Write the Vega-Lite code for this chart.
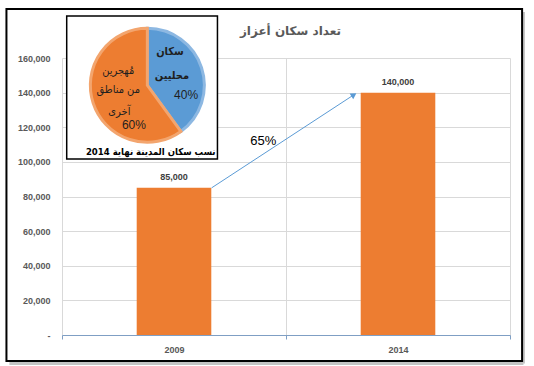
{
  "$schema": "https://vega.github.io/schema/vega-lite/v6.json",
  "autosize": "none",
  "width": 448,
  "height": 277,
  "padding": {"left": 62, "top": 58, "right": 24, "bottom": 31},
  "background": "white",
  "config": {
    "view": {"stroke": null}
  },
  "data": {"values": [
    {"year": "2009", "population": 85000},
    {"year": "2014", "population": 140000}
  ]},
  "layer": [
    {
      "mark": {"type": "bar", "color": "#ED7D31", "width": {"band": 0.333}},
      "encoding": {
        "x": {"field": "year", "type": "nominal", "scale": {"type": "band", "paddingInner": 0, "paddingOuter": 0},
          "axis": {"title": null, "labelAngle": 0, "tickBand": "extent", "grid": true, "gridColor": "#D9D9D9", "domainColor": "#7F9FC4", "tickColor": "#7F9FC4", "tickSize": 4, "labelFont": "Liberation Sans", "labelFontSize": 9, "labelFontWeight": "bold", "labelColor": "#595959", "labelPadding": 6}},
        "y": {"field": "population", "type": "quantitative", "scale": {"domain": [0, 160000], "nice": false, "zero": true},
          "axis": {"title": null, "values": [0, 20000, 40000, 60000, 80000, 100000, 120000, 140000, 160000], "tickCount": 9, "labelOverlap": false, "labelExpr": "datum.value == 0 ? '-' : format(datum.value, ',')", "domain": false, "ticks": false, "grid": true, "gridColor": "#D9D9D9", "labelFont": "Liberation Sans", "labelFontSize": 9, "labelFontWeight": "bold", "labelColor": "#595959", "labelPadding": 12}}
      }
    },
    {
      "mark": {"type": "text", "font": "Liberation Sans", "fontSize": 9, "fontWeight": "bold", "color": "#404040", "baseline": "bottom", "dy": -6},
      "encoding": {
        "x": {"field": "year", "type": "nominal"},
        "y": {"field": "population", "type": "quantitative"},
        "text": {"field": "population", "type": "quantitative", "format": ","}
      }
    },
    {
      "data": {"values": [{}]},
      "mark": {"type": "text", "text": "تعداد سكان أعزاز", "font": "DejaVu Sans", "fontSize": 12, "fontWeight": "bold", "color": "#595959", "align": "center", "baseline": "middle"},
      "encoding": {
        "x": {"datum": "2014", "type": "nominal", "bandPosition": 0.02},
        "y": {"datum": 175310, "type": "quantitative"}
      }
    },
    {
      "data": {"values": [{}]},
      "mark": {"type": "rule", "color": "#5B9BD5", "strokeWidth": 1},
      "encoding": {
        "x": {"datum": "2009", "type": "nominal", "bandPosition": 0.668},
        "y": {"datum": 85000, "type": "quantitative"},
        "x2": {"datum": "2014", "bandPosition": 0.303},
        "y2": {"datum": 138740}
      }
    },
    {
      "data": {"values": [{}]},
      "mark": {"type": "point", "shape": "triangle-up", "filled": true, "color": "#5B9BD5", "size": 45, "angle": 57, "opacity": 1},
      "encoding": {
        "x": {"datum": "2014", "type": "nominal", "bandPosition": 0.303},
        "y": {"datum": 138740, "type": "quantitative"}
      }
    },
    {
      "data": {"values": [{}]},
      "mark": {"type": "text", "text": "65%", "font": "Liberation Sans", "fontSize": 13, "color": "#000000", "align": "center", "baseline": "middle"},
      "encoding": {
        "x": {"datum": "2009", "type": "nominal", "bandPosition": 0.899},
        "y": {"datum": 112060, "type": "quantitative"}
      }
    },
    {
      "data": {"values": [{}]},
      "mark": {"type": "rect", "fill": "white", "stroke": "black", "strokeWidth": 1.5},
      "encoding": {
        "x": {"datum": "2009", "type": "nominal", "bandPosition": 0.021},
        "x2": {"datum": "2009", "bandPosition": 0.694},
        "y": {"datum": 184260, "type": "quantitative"},
        "y2": {"datum": 101660}
      }
    },
    {
      "data": {"values": [
        {"group": "سكان محليين", "share": 40},
        {"group": "مُهجرين من مناطق آخرى", "share": 60}
      ]},
      "mark": {"type": "arc", "outerRadius": 57, "strokeWidth": 3},
      "encoding": {
        "theta": {"field": "share", "type": "quantitative", "stack": true},
        "color": {"field": "group", "type": "nominal", "scale": {"domain": ["سكان محليين", "مُهجرين من مناطق آخرى"], "range": ["#5B9BD5", "#ED7D31"]}, "legend": null},
        "stroke": {"field": "group", "type": "nominal", "scale": {"domain": ["سكان محليين", "مُهجرين من مناطق آخرى"], "range": ["#8DB8E2", "#F3A56E"]}, "legend": null},
        "x": {"datum": "2009", "type": "nominal", "bandPosition": 0.381},
        "y": {"datum": 144230, "type": "quantitative"}
      }
    },
    {
      "data": {"values": [{}]},
      "mark": {"type": "text", "text": "سكان", "font": "DejaVu Sans Condensed, DejaVu Sans", "fontSize": 11, "fontWeight": "bold", "color": "#1F1F1F", "align": "center", "baseline": "middle"},
      "encoding": {
        "x": {"datum": "2009", "type": "nominal", "bandPosition": 0.482},
        "y": {"datum": 163500, "type": "quantitative"}
      }
    },
    {
      "data": {"values": [{}]},
      "mark": {"type": "text", "text": "محليين", "font": "DejaVu Sans Condensed, DejaVu Sans", "fontSize": 11, "fontWeight": "bold", "color": "#1F1F1F", "align": "center", "baseline": "middle"},
      "encoding": {
        "x": {"datum": "2009", "type": "nominal", "bandPosition": 0.491},
        "y": {"datum": 149500, "type": "quantitative"}
      }
    },
    {
      "data": {"values": [{}]},
      "mark": {"type": "text", "text": "40%", "font": "Liberation Sans", "fontSize": 12, "color": "#1F1F1F", "align": "center", "baseline": "middle"},
      "encoding": {
        "x": {"datum": "2009", "type": "nominal", "bandPosition": 0.554},
        "y": {"datum": 138630, "type": "quantitative"}
      }
    },
    {
      "data": {"values": [{}]},
      "mark": {"type": "text", "text": "مُهجرين", "font": "DejaVu Sans Condensed, DejaVu Sans", "fontSize": 11, "color": "#1F1F1F", "align": "center", "baseline": "middle"},
      "encoding": {
        "x": {"datum": "2009", "type": "nominal", "bandPosition": 0.251},
        "y": {"datum": 152500, "type": "quantitative"}
      }
    },
    {
      "data": {"values": [{}]},
      "mark": {"type": "text", "text": "من مناطق", "font": "DejaVu Sans Condensed, DejaVu Sans", "fontSize": 11, "color": "#1F1F1F", "align": "center", "baseline": "middle"},
      "encoding": {
        "x": {"datum": "2009", "type": "nominal", "bandPosition": 0.251},
        "y": {"datum": 141500, "type": "quantitative"}
      }
    },
    {
      "data": {"values": [{}]},
      "mark": {"type": "text", "text": "آخرى", "font": "DejaVu Sans Condensed, DejaVu Sans", "fontSize": 11, "color": "#1F1F1F", "align": "center", "baseline": "middle"},
      "encoding": {
        "x": {"datum": "2009", "type": "nominal", "bandPosition": 0.256},
        "y": {"datum": 129000, "type": "quantitative"}
      }
    },
    {
      "data": {"values": [{}]},
      "mark": {"type": "text", "text": "60%", "font": "Liberation Sans", "fontSize": 12, "color": "#1F1F1F", "align": "center", "baseline": "middle"},
      "encoding": {
        "x": {"datum": "2009", "type": "nominal", "bandPosition": 0.321},
        "y": {"datum": 121500, "type": "quantitative"}
      }
    },
    {
      "data": {"values": [{}]},
      "mark": {"type": "text", "text": "نسب سكان المدينة نهاية 2014", "font": "DejaVu Sans Condensed, DejaVu Sans", "fontSize": 9.5, "fontWeight": "bold", "color": "#000000", "align": "center", "baseline": "middle"},
      "encoding": {
        "x": {"datum": "2009", "type": "nominal", "bandPosition": 0.396},
        "y": {"datum": 105500, "type": "quantitative"}
      }
    },
    {
      "data": {"values": [{}]},
      "mark": {"type": "rule", "color": "#C4C4C4", "strokeWidth": 3},
      "encoding": {
        "x": {"datum": "2014", "type": "nominal", "bandPosition": 1.06},
        "y": {"datum": 186500, "type": "quantitative"},
        "y2": {"datum": -16500}
      }
    },
    {
      "data": {"values": [{}]},
      "mark": {"type": "rule", "color": "#C4C4C4", "strokeWidth": 3},
      "encoding": {
        "x": {"datum": "2009", "type": "nominal", "bandPosition": -0.235},
        "x2": {"datum": "2014", "bandPosition": 1.06},
        "y": {"datum": -16500, "type": "quantitative"}
      }
    },
    {
      "data": {"values": [{}]},
      "mark": {"type": "rect", "fill": null, "fillOpacity": 0, "stroke": "black", "strokeWidth": 2},
      "encoding": {
        "x": {"datum": "2009", "type": "nominal", "bandPosition": -0.248},
        "x2": {"datum": "2014", "bandPosition": 1.054},
        "y": {"datum": 188300, "type": "quantitative"},
        "y2": {"datum": -15020}
      }
    }
  ]
}
